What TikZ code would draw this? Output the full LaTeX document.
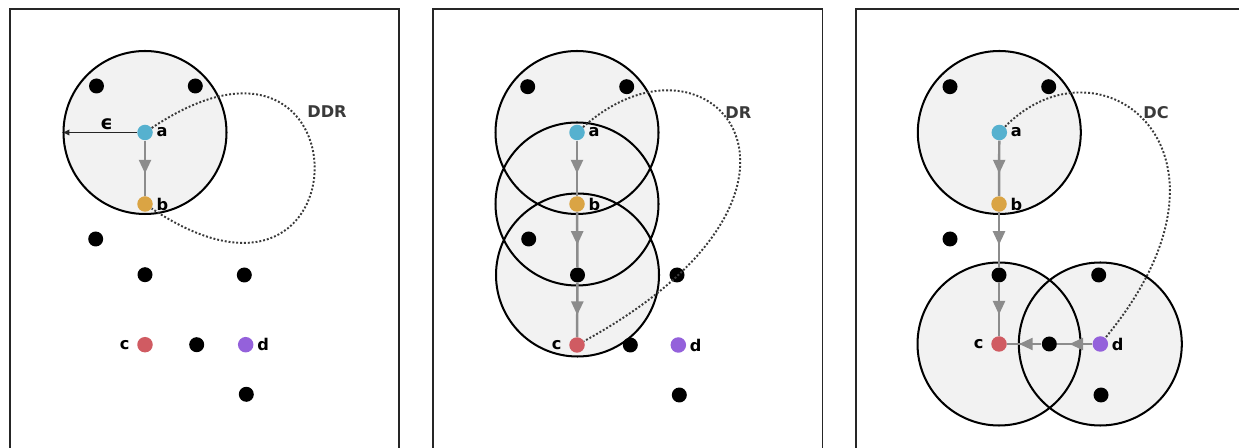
\documentclass[tikz,border=0pt]{standalone}
\usepackage{fontspec}
\setmainfont{DejaVu Sans}
\usetikzlibrary{arrows.meta, decorations.markings}
\pgfdeclarelayer{background}
\pgfsetlayers{background,main}
\definecolor{ptblue}{HTML}{56B1CF}
\definecolor{ptorange}{HTML}{DAA444}
\definecolor{ptred}{HTML}{D05B62}
\definecolor{ptpurple}{HTML}{9461DB}
\definecolor{flowgray}{HTML}{8C8C8C}
\definecolor{nbhdfill}{HTML}{F2F2F2}
\definecolor{txtgray}{HTML}{3A3A3A}

\begin{document}
\begin{tikzpicture}[x=0.02cm, y=-0.02cm, font=\fontsize{9.2}{11}\selectfont\bfseries]
        \tikzstyle{panel} = [draw=black!85, line width=0.75pt]
        \tikzstyle{nbhd} = [fill=nbhdfill]
        \tikzstyle{nbhdline} = [draw=black, line width=1.15pt]
        \tikzstyle{blackpt} = [circle, fill=black, inner sep=0pt, minimum size=0.3cm]
        \tikzstyle{colpt} = [circle, inner sep=0pt, minimum size=0.31cm]
        \tikzstyle{rlab} = [inner sep=1.8pt]
        \tikzstyle{llab} = [inner sep=4pt]
        \tikzstyle{flow} = [color=flowgray, line width=1.4pt, postaction={decorate},
            decoration={markings, mark=at position 0.5 with {\arrow[xshift=3pt]{Triangle[length=7.8pt, width=6.8pt]}}}]
        \tikzstyle{loopline} = [draw=txtgray, line width=1.1pt, dash pattern=on 1.1pt off 1.1pt]
        \tikzstyle{epsline} = [draw=black!85, line width=0.55pt, -{Triangle[length=3.4pt, width=3.4pt]}]
        \tikzstyle{title} = [text=txtgray]

        \useasboundingbox (0,0) rectangle (1239,448);
        \clip (0,0) rectangle (1239,448);

        % panel frames
        \draw[panel] (10,9) rectangle (399,470);
        \draw[panel] (433,9) rectangle (822.7,470);
        \draw[panel] (856,9) rectangle (1246,470);

        % DDR
        \node (a1) [colpt, fill=ptblue, label={[rlab]right:a}] at (145,132.5) {};
        \node (b1) [colpt, fill=ptorange, label={[rlab]right:b}] at (145,204) {};
        \node (c1) [colpt, fill=ptred, label={[llab]left:c}] at (145,344.7) {};
        \node (d1) [colpt, fill=ptpurple, label={[rlab]right:d}] at (245.7,344.7) {};
        \node (n11) [blackpt] at (96.5,86) {};
        \node (n12) [blackpt] at (195.3,86) {};
        \node (n13) [blackpt] at (95.7,239) {};
        \node (n14) [blackpt] at (145,274.7) {};
        \node (n15) [blackpt] at (244.3,275) {};
        \node (n16) [blackpt] at (196.7,344.7) {};
        \node (n17) [blackpt] at (246.3,394.3) {};
        \coordinate (eps1) at (63.5,132.5);
        \node (epsl) [font=\fontsize{11}{12}\selectfont\bfseries] at (106.5,124.5) {ϵ};
        \node (ddr) [title] at (327,112) {DDR};
        \draw[epsline] (a1) -- (eps1);
        \draw[flow] (a1) -- (b1);
        \draw[loopline] (a1) .. controls (369,-18) and (369,354) .. (b1);

        % DR
        \node (a2) [colpt, fill=ptblue, label={[rlab]right:a}] at (577,132.5) {};
        \node (b2) [colpt, fill=ptorange, label={[rlab]right:b}] at (577,204) {};
        \node (c2) [colpt, fill=ptred, label={[llab]left:c}] at (577,345) {};
        \node (d2) [colpt, fill=ptpurple, label={[rlab]right:d}] at (678.3,345) {};
        \node (n21) [blackpt] at (527.7,86.7) {};
        \node (n22) [blackpt] at (626.7,86.7) {};
        \node (n23) [blackpt] at (528.7,239) {};
        \node (n24) [blackpt] at (577.5,275) {};
        \node (n25) [blackpt] at (677,275) {};
        \node (n26) [blackpt] at (630.3,345) {};
        \node (n27) [blackpt] at (679.3,395) {};
        \node (dr) [title] at (738.3,113) {DR};
        \draw[flow] (a2) -- (b2);
        \draw[flow] (b2) -- (n24);
        \draw[flow] (n24) -- (c2);
        \draw[loopline] (a2) .. controls (712,12) and (860,190) .. (c2);

        % DC
        \node (a3) [colpt, fill=ptblue, label={[rlab]right:a}] at (999.3,132.5) {};
        \node (b3) [colpt, fill=ptorange, label={[rlab]right:b}] at (999,204) {};
        \node (c3) [colpt, fill=ptred, label={[llab]left:c}] at (999,344) {};
        \node (d3) [colpt, fill=ptpurple, label={[rlab]right:d}] at (1100.3,344) {};
        \node (n31) [blackpt] at (950,86.7) {};
        \node (n32) [blackpt] at (1048.7,86.7) {};
        \node (n33) [blackpt] at (950,239) {};
        \node (n34) [blackpt] at (999,275) {};
        \node (n35) [blackpt] at (1098.7,275) {};
        \node (n36) [blackpt] at (1049.3,344) {};
        \node (n37) [blackpt] at (1101,395) {};
        \node (dc) [title] at (1156,113) {DC};
        \draw[flow] (a3) -- (b3);
        \draw[flow] (b3) -- (n34);
        \draw[flow] (n34) -- (c3);
        \draw[flow] (d3) -- (n36);
        \draw[flow] (n36) -- (c3);
        \draw[loopline] (a3) .. controls (1100,30) and (1260,150) .. (d3);

        % eps-neighbourhoods
        \begin{pgfonlayer}{background}
            \path[nbhd] (a1) circle (81.5);
            \path[nbhd] (a2) circle (81.5) (b2) circle (81.5) (n24) circle (81.5);
            \path[nbhd] (a3) circle (81.5) (c3) circle (81.5) (d3) circle (81.5);
            \draw[nbhdline] (a1) circle (81.5);
            \draw[nbhdline] (a2) circle (81.5) (b2) circle (81.5) (n24) circle (81.5);
            \draw[nbhdline] (a3) circle (81.5) (c3) circle (81.5) (d3) circle (81.5);
        \end{pgfonlayer}
    \end{tikzpicture}
\end{document}
